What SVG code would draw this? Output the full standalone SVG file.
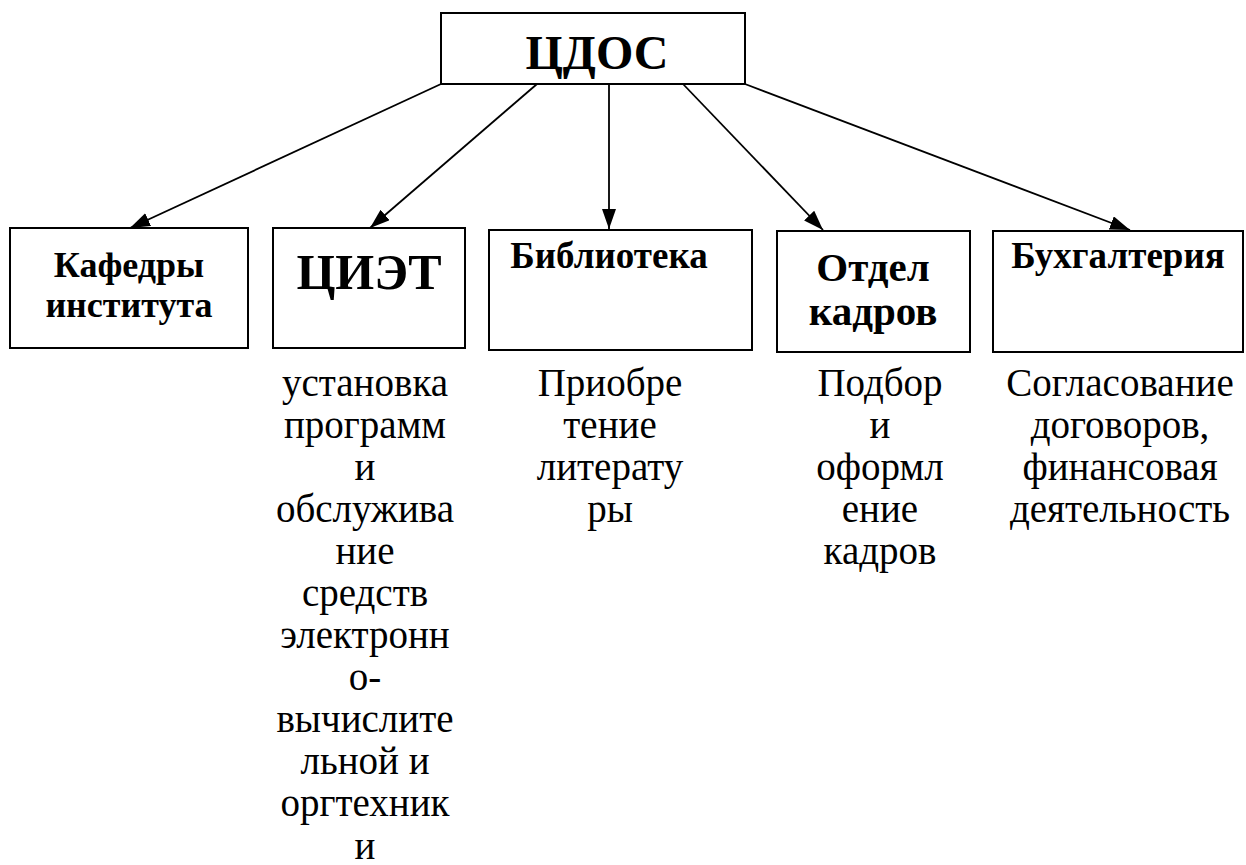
<svg xmlns="http://www.w3.org/2000/svg" width="1246" height="865" viewBox="0 0 1246 865">
<style>
.box{fill:#fff;stroke:#000;stroke-width:2}
.b{font-family:'Liberation Serif','DejaVu Serif',serif;font-weight:bold;fill:#000;text-anchor:middle}
.r{font-family:'Liberation Serif','DejaVu Serif',serif;font-size:39px;fill:#000;text-anchor:middle}
.c{stroke:#000;stroke-width:1.8;fill:none;marker-end:url(#ah)}
</style>
<defs>
<marker id="ah" markerUnits="userSpaceOnUse" markerWidth="22" markerHeight="16" refX="20" refY="7" orient="auto">
<path d="M0,0 L20,7 L0,14 z" fill="#000"/>
</marker>
</defs>
<rect width="1246" height="865" fill="#fff"/>
<g id="connectors">
<line class="c" x1="441" y1="84" x2="130" y2="228"/>
<line class="c" x1="537" y1="84" x2="370" y2="228"/>
<line class="c" x1="609" y1="84" x2="609" y2="229"/>
<line class="c" x1="683" y1="84" x2="823" y2="230"/>
<line class="c" x1="745" y1="84" x2="1130" y2="230"/>
</g>
<g id="cdos">
<rect class="box" x="441" y="13" width="304" height="71"/>
<text class="b" x="597" y="69" font-size="48">ЦДОС</text>
</g>
<g id="kafedry">
<rect class="box" x="10" y="228" width="238" height="120"/>
<text class="b" x="129" font-size="36"><tspan x="129" y="277">Кафедры</tspan><tspan x="129" y="317">института</tspan></text>
</g>
<g id="ciet">
<rect class="box" x="273" y="228" width="192" height="120"/>
<text class="b" x="369" y="289" font-size="50">ЦИЭТ</text>
<text class="r" x="365"><tspan x="365" y="396">установка</tspan><tspan x="365" y="438">программ</tspan><tspan x="365" y="480">и</tspan><tspan x="365" y="522">обслужива</tspan><tspan x="365" y="564">ние</tspan><tspan x="365" y="606">средств</tspan><tspan x="365" y="648">электронн</tspan><tspan x="365" y="690">о-</tspan><tspan x="365" y="732">вычислите</tspan><tspan x="365" y="774">льной и</tspan><tspan x="365" y="816">оргтехник</tspan><tspan x="365" y="859">и</tspan></text>
</g>
<g id="biblioteka">
<rect class="box" x="489" y="230" width="263" height="120"/>
<text class="b" x="609" y="268" font-size="37">Библиотека</text>
<text class="r" x="610"><tspan x="610" y="396">Приобре</tspan><tspan x="610" y="438">тение</tspan><tspan x="610" y="480">литерату</tspan><tspan x="610" y="522">ры</tspan></text>
</g>
<g id="otdel">
<rect class="box" x="777" y="231" width="193" height="121"/>
<text class="b" x="873" font-size="41"><tspan x="873" y="281">Отдел</tspan><tspan x="873" y="325">кадров</tspan></text>
<text class="r" x="880"><tspan x="880" y="396">Подбор</tspan><tspan x="880" y="438">и</tspan><tspan x="880" y="480">оформл</tspan><tspan x="880" y="522">ение</tspan><tspan x="880" y="564">кадров</tspan></text>
</g>
<g id="buh">
<rect class="box" x="993" y="231" width="250" height="121"/>
<text class="b" x="1118" y="268" font-size="37">Бухгалтерия</text>
<text class="r" x="1120"><tspan x="1120" y="396">Согласование</tspan><tspan x="1120" y="438">договоров,</tspan><tspan x="1120" y="480">финансовая</tspan><tspan x="1120" y="522">деятельность</tspan></text>
</g>
</svg>
